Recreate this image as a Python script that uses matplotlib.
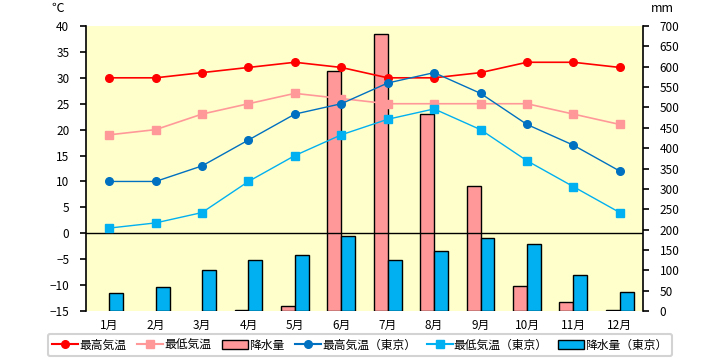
import matplotlib
matplotlib.use('Agg')
import matplotlib.pyplot as plt
from matplotlib.lines import Line2D
from matplotlib.patches import Patch
import numpy as np

plt.rcParams['font.family'] = ['Noto Sans CJK JP', 'DejaVu Sans']

months = ['1月', '2月', '3月', '4月', '5月', '6月', '7月', '8月', '9月', '10月', '11月', '12月']
max_temp = [30, 30, 31, 32, 33, 32, 30, 30, 31, 33, 33, 32]
min_temp = [19, 20, 23, 25, 27, 26, 25, 25, 25, 25, 23, 21]
rain = [0, 0, 0, 3, 12, 590, 681, 485, 306, 61, 21, 2]
tokyo_max = [10, 10, 13, 18, 23, 25, 29, 31, 27, 21, 17, 12]
tokyo_min = [1, 2, 4, 10, 15, 19, 22, 24, 20, 14, 9, 4]
tokyo_rain = [44, 58, 100, 125, 137, 184, 125, 147, 179, 164, 88, 46]

fig = plt.figure(figsize=(7.2, 3.6), dpi=100)
ax = fig.add_axes([86/720, 49/360, 557/720, 285/360])
ax2 = ax.twinx()

x = np.arange(len(months))
w = 0.3

# yellow plot background behind everything
fig.patches.append(plt.Rectangle((86/720, 49/360), 557/720, 285/360,
                                 transform=fig.transFigure, facecolor='#FFFFCC',
                                 edgecolor='none', zorder=-10))

# bars on right axis (no outline for empty months)
edges = ['black' if v > 0 else 'none' for v in rain]
ax2.bar(x - w/2, rain, w, color='#FF9999', edgecolor=edges, linewidth=1, zorder=2)
ax2.bar(x + w/2, tokyo_rain, w, color='#00B0F0', edgecolor='black', linewidth=1, zorder=2)
ax2.set_ylim(0, 700)
ax2.set_yticks(range(0, 701, 50))

# lines drawn on top
ax.set_zorder(ax2.get_zorder() + 1)
ax.patch.set_visible(False)
ax2.patch.set_visible(False)

ax.axhline(0, color='black', linewidth=1, zorder=1)
ax.plot(x, max_temp, color='#FF0000', marker='o', markersize=5.5, linewidth=1.2, zorder=3)
ax.plot(x, min_temp, color='#FF9999', marker='s', markersize=6, linewidth=1.2, zorder=3)
ax.plot(x, tokyo_max, color='#0070C0', marker='o', markersize=5.5, linewidth=1.0, zorder=3)
ax.plot(x, tokyo_min, color='#00B0F0', marker='s', markersize=6, linewidth=1.0, zorder=3)

ax.set_ylim(-15, 40)
ax.set_yticks(range(-15, 41, 5))
ax.set_xlim(-0.5, 11.5)
ax.set_xticks(x)
ax.set_xticklabels(months)

for a in (ax, ax2):
    a.spines['top'].set_visible(False)
    a.spines['bottom'].set_visible(False)
ax.spines['right'].set_visible(False)
ax2.spines['left'].set_visible(False)
ax.spines['left'].set_linewidth(1.2)
ax2.spines['right'].set_linewidth(1.2)

ax.tick_params(axis='y', direction='out', length=4, width=1.2, labelsize=8.5, pad=8)
ax2.tick_params(axis='y', direction='out', length=4, width=1.2, labelsize=8.5, pad=8)
ax.tick_params(axis='x', length=0, labelsize=8.5, pad=6)

fig.text(58/720, 1 - 8/360, '℃', fontsize=9, ha='center', va='center')
fig.text(662/720, 1 - 8/360, 'mm', fontsize=9, ha='center', va='center')

handles = [
    Line2D([], [], color='#FF0000', marker='o', markersize=5.5),
    Line2D([], [], color='#FF9999', marker='s', markersize=6),
    Patch(facecolor='#FF9999', edgecolor='black'),
    Line2D([], [], color='#0070C0', marker='o', markersize=5.5),
    Line2D([], [], color='#00B0F0', marker='s', markersize=6),
    Patch(facecolor='#00B0F0', edgecolor='black'),
]
labels = ['最高気温', '最低気温', '降水量', '最高気温（東京）', '最低気温（東京）', '降水量（東京）']
leg = fig.legend(handles, labels, loc='center', bbox_to_anchor=(0.5, 15/360), ncol=6,
                 fontsize=8.5, frameon=True, fancybox=True, edgecolor='#C8C8C8',
                 handlelength=2.2, handletextpad=0.1, columnspacing=0.9,
                 borderpad=0.4)
leg.get_frame().set_linewidth(1.5)

fig.savefig('out.png', dpi=100)
